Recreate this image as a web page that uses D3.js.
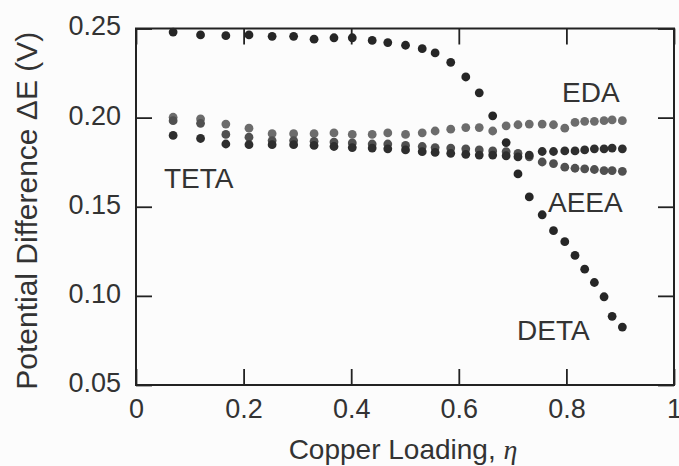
<!DOCTYPE html>
<html>
<head>
<meta charset="utf-8">
<script src="https://cdn.jsdelivr.net/npm/d3@7"></script>
<style>
  html, body { margin: 0; padding: 0; background: #fcfcfc; }
  svg { display: block; }
  text { font-family: "Liberation Sans", Arial, Helvetica, sans-serif; fill: #333; }
</style>
</head>
<body>
<svg id="chart" width="679" height="466"></svg>
<script>
// Copper loading (eta) of each measurement
const loading = [0.069, 0.120, 0.167, 0.210, 0.253, 0.293, 0.331, 0.368, 0.402, 0.439,
                 0.468, 0.501, 0.532, 0.556, 0.585, 0.613, 0.638, 0.663, 0.688, 0.710,
                 0.731, 0.755, 0.776, 0.797, 0.816, 0.834, 0.852, 0.870, 0.885, 0.904];

// Potential difference ΔE (V) for each amine
const deta = [0.2480, 0.2464, 0.2460, 0.2464, 0.2456, 0.2456, 0.2440, 0.2448, 0.2448, 0.2433,
              0.2421, 0.2406, 0.2387, 0.2363, 0.2310, 0.2228, 0.2139, 0.2010, 0.1860, 0.1684,
              0.1555, 0.1455, 0.1366, 0.1304, 0.1227, 0.1150, 0.1075, 0.0995, 0.0885, 0.0825];
const eda  = [0.2002, 0.1993, 0.1964, 0.1941, 0.1910, 0.1910, 0.1910, 0.1914, 0.1906, 0.1906,
              0.1914, 0.1906, 0.1915, 0.1925, 0.1935, 0.1944, 0.1944, 0.1925, 0.1954, 0.1960,
              0.1964, 0.1964, 0.1960, 0.1941, 0.1973, 0.1979, 0.1979, 0.1983, 0.1987, 0.1983];
const aeea = [0.1983, 0.1968, 0.1906, 0.1890, 0.1871, 0.1871, 0.1867, 0.1863, 0.1858, 0.1852,
              0.1852, 0.1844, 0.1838, 0.1832, 0.1829, 0.1825, 0.1819, 0.1813, 0.1809, 0.1800,
              0.1780, 0.1751, 0.1742, 0.1722, 0.1716, 0.1713, 0.1709, 0.1703, 0.1703, 0.1699];
const teta = [0.1900, 0.1883, 0.1852, 0.1848, 0.1848, 0.1848, 0.1844, 0.1838, 0.1832, 0.1829,
              0.1825, 0.1819, 0.1809, 0.1805, 0.1800, 0.1794, 0.1790, 0.1790, 0.1786, 0.1780,
              0.1790, 0.1810, 0.1810, 0.1813, 0.1813, 0.1819, 0.1825, 0.1825, 0.1829, 0.1825];

const xTicks = [0, 0.2, 0.4, 0.6, 0.8, 1];
const yTicks = [0.05, 0.10, 0.15, 0.20, 0.25];

const seriesNames = ["EDA", "AEEA", "TETA", "DETA"];
const seriesValues = [eda, aeea, teta, deta];
const seriesColors = ["#6c6c6c", "#505050", "#2e2e2e", "#262626"];

(function draw() {
  const svg = d3.select("#chart");
  const pL = 136, pR = 674, pT = 28.5, pB = 385;
  const tickLen = 16;
  const axisColor = "#222";
  const font = "'Liberation Sans', Arial, sans-serif";

  const x = d3.scaleLinear().domain([0, 1]).range([pL, pR]);
  const y = d3.scaleLinear().domain([0.05, 0.25]).range([pB, pT]);

  // Bottom axis (ticks pointing into the plot) with labels
  const gx = svg.append("g").attr("transform", `translate(0,${pB})`)
    .call(d3.axisBottom(x).tickValues(xTicks).tickSizeInner(-tickLen).tickSizeOuter(0)
          .tickPadding(14).tickFormat(d => d === 0 ? "0" : d === 1 ? "1" : d3.format(".1f")(d)));
  gx.select(".domain").remove();
  gx.selectAll(".tick line").attr("stroke", axisColor).attr("stroke-width", 1.8);
  gx.selectAll(".tick text").attr("font-size", 27).attr("fill", "#333").style("font-family", font);

  // Top axis mirror ticks
  const gxt = svg.append("g").attr("transform", `translate(0,${pT})`)
    .call(d3.axisTop(x).tickValues(xTicks).tickSizeInner(-tickLen).tickSizeOuter(0).tickFormat(""));
  gxt.select(".domain").remove();
  gxt.selectAll(".tick line").attr("stroke", axisColor).attr("stroke-width", 1.8);

  // Left axis with labels
  const gy = svg.append("g").attr("transform", `translate(${pL},0)`)
    .call(d3.axisLeft(y).tickValues(yTicks).tickSizeInner(-tickLen).tickSizeOuter(0)
          .tickPadding(15).tickFormat(d3.format(".2f")));
  gy.select(".domain").remove();
  gy.selectAll(".tick line").attr("stroke", axisColor).attr("stroke-width", 1.8);
  gy.selectAll(".tick text").attr("font-size", 27).attr("fill", "#333").attr("dy", "0.24em")
    .style("font-family", font);

  // Right axis mirror ticks
  const gyr = svg.append("g").attr("transform", `translate(${pR},0)`)
    .call(d3.axisRight(y).tickValues(yTicks).tickSizeInner(-tickLen).tickSizeOuter(0).tickFormat(""));
  gyr.select(".domain").remove();
  gyr.selectAll(".tick line").attr("stroke", axisColor).attr("stroke-width", 1.8);

  // Plot frame
  svg.append("rect")
    .attr("x", pL).attr("y", pT)
    .attr("width", pR - pL).attr("height", pB - pT)
    .attr("fill", "none").attr("stroke", axisColor).attr("stroke-width", 2);

  // Data points
  seriesValues.forEach((vals, i) => {
    svg.append("g").attr("class", "series-" + seriesNames[i])
      .selectAll("circle")
      .data(vals.map((v, j) => ({ eta: loading[j], v })))
      .join("circle")
      .attr("cx", d => x(d.eta))
      .attr("cy", d => y(d.v))
      .attr("r", 4.4)
      .attr("fill", seriesColors[i]);
  });

  // Series labels
  const labels = [
    { text: "EDA",  x: 562, y: 102, color: "#555" },
    { text: "TETA", x: 164, y: 188, color: "#444" },
    { text: "AEEA", x: 548, y: 212, color: "#444" },
    { text: "DETA", x: 517, y: 340, color: "#444" }
  ];
  svg.append("g").selectAll("text").data(labels).join("text")
    .attr("x", d => d.x).attr("y", d => d.y)
    .attr("font-size", 28)
    .attr("fill", d => d.color)
    .text(d => d.text);

  // Axis titles
  const xt = svg.append("text")
    .attr("x", (pL + pR) / 2 - 2).attr("y", 459)
    .attr("text-anchor", "middle").attr("font-size", 28);
  xt.append("tspan").text("Copper Loading, ");
  xt.append("tspan").text("η")
    .style("font-family", "'Liberation Serif', 'DejaVu Serif', serif")
    .style("font-style", "italic");

  svg.append("text")
    .attr("transform", `translate(37,${(pT + pB) / 2 + 4}) rotate(-90)`)
    .attr("text-anchor", "middle").attr("font-size", 30)
    .text("Potential Difference ΔE (V)");
})();
</script>
</body>
</html>
